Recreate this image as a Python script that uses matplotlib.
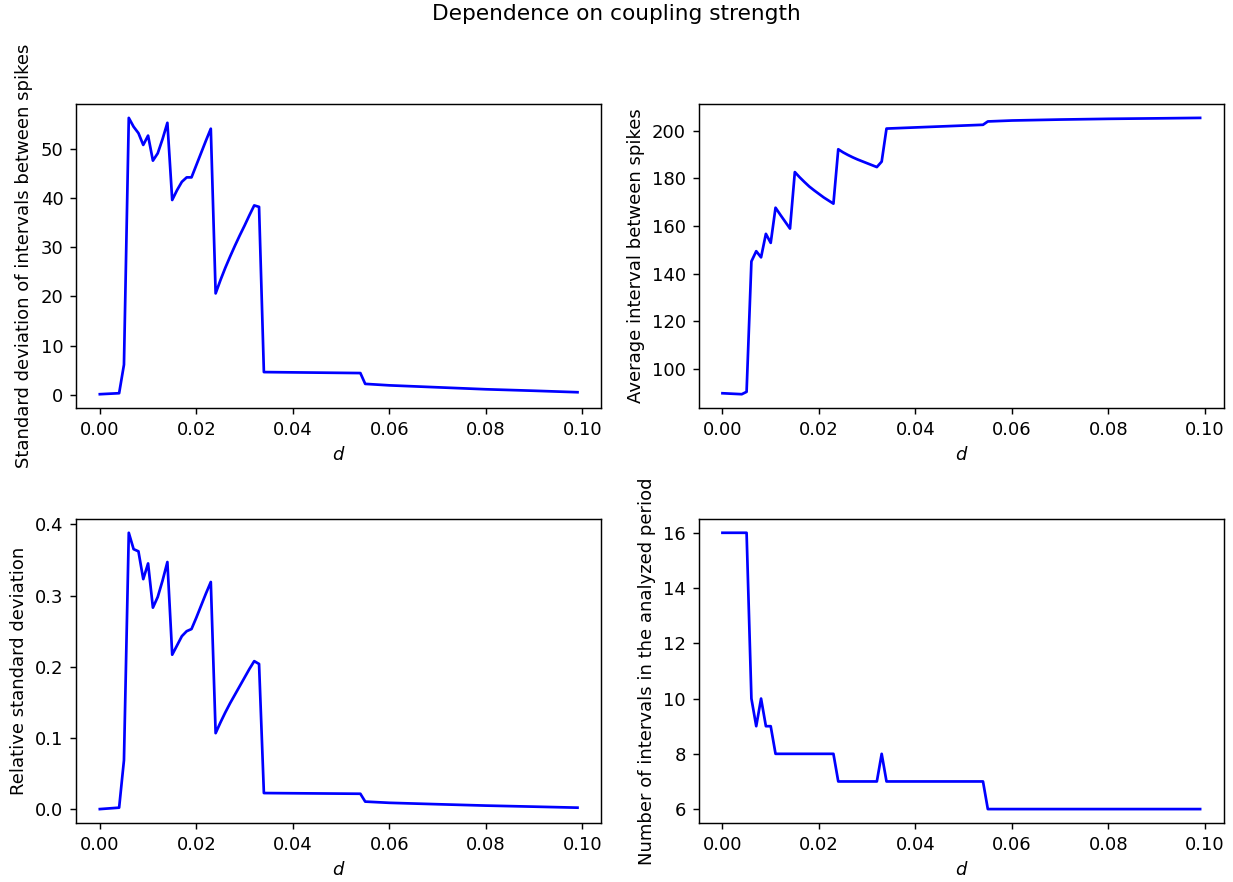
import matplotlib
matplotlib.use("Agg")
import matplotlib.pyplot as plt

# coupling strength values (vertices)
d = [0.000, 0.004, 0.005, 0.006, 0.007, 0.008, 0.009, 0.010,
     0.011, 0.012, 0.013, 0.014, 0.015, 0.016, 0.017, 0.018, 0.019,
     0.020, 0.021, 0.022, 0.023, 0.024, 0.025, 0.026, 0.027, 0.028,
     0.029, 0.030, 0.031, 0.032, 0.033, 0.034, 0.044, 0.054, 0.055,
     0.060, 0.070, 0.080, 0.090, 0.099]

# standard deviation of intervals between spikes
std_isi = [0.1, 0.3, 6.1, 56.3, 54.5, 53.2, 50.8, 52.7,
           47.6, 49.1, 52.0, 55.3, 39.6, 41.6, 43.3, 44.2, 44.2,
           46.7, 49.2, 51.7, 54.1, 20.6, 23.3, 25.8, 28.1, 30.3,
           32.4, 34.4, 36.5, 38.5, 38.2, 4.6, 4.5, 4.4, 2.2,
           1.9, 1.5, 1.1, 0.8, 0.5]

# average interval between spikes
mean_isi = [89.6, 89.2, 90.2, 145.1, 149.4, 146.8, 156.7, 152.9,
            167.7, 164.7, 161.8, 158.9, 182.7, 180.5, 178.5, 176.6, 175.0,
            173.5, 172.0, 170.7, 169.4, 192.3, 191.0, 189.9, 188.9, 188.0,
            187.2, 186.4, 185.6, 184.8, 187.1, 201.0, 201.8, 202.6, 204.0,
            204.4, 204.8, 205.1, 205.3, 205.5]

# relative standard deviation
rel_std = [0.0005, 0.0025, 0.069, 0.388, 0.365, 0.362, 0.323, 0.345,
           0.283, 0.298, 0.321, 0.347, 0.217, 0.230, 0.243, 0.250, 0.253,
           0.269, 0.286, 0.303, 0.319, 0.107, 0.122, 0.136, 0.149, 0.161,
           0.173, 0.185, 0.197, 0.208, 0.204, 0.023, 0.0225, 0.022, 0.011,
           0.0093, 0.0073, 0.0054, 0.0039, 0.0025]

# number of intervals in the analyzed period
n_intervals = [16, 16, 16, 10, 9, 10, 9, 9,
               8, 8, 8, 8, 8, 8, 8, 8, 8,
               8, 8, 8, 8, 7, 7, 7, 7, 7,
               7, 7, 7, 7, 8, 7, 7, 7, 6,
               6, 6, 6, 6, 6]

panels = [
    (std_isi, "Standard deviation of intervals between spikes"),
    (mean_isi, "Average interval between spikes"),
    (rel_std, "Relative standard deviation"),
    (n_intervals, "Number of intervals in the analyzed period"),
]

DPI = 130
fig, axes = plt.subplots(2, 2, figsize=(1233 / DPI, 882 / DPI), dpi=DPI)
fig.subplots_adjust(left=0.0616, right=0.9927, top=0.882, bottom=0.067,
                    wspace=0.185, hspace=0.365)
fig.suptitle("Dependence on coupling strength", y=0.995)

for ax, (vals, label) in zip(axes.flat, panels):
    ax.plot(d, vals, color="b")
    ax.set_xlabel("$d$")
    ax.set_ylabel(label)

fig.savefig("out.png", dpi=DPI)
